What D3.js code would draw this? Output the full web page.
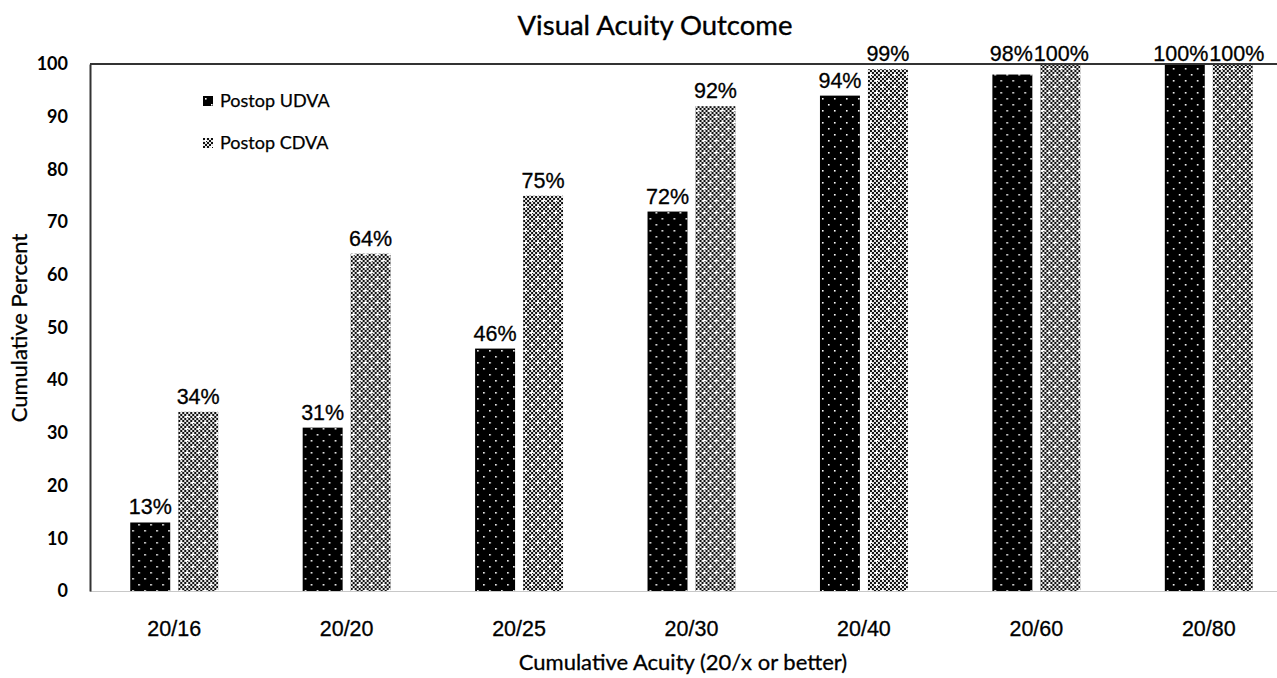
<!DOCTYPE html>
<html>
<head>
<meta charset="utf-8">
<script src="https://cdn.jsdelivr.net/npm/d3@7"></script>
<style>
  html, body { margin: 0; padding: 0; background: #fff; }
  svg { display: block; }
</style>
</head>
<body>
<svg id="chart" width="1277" height="678"></svg>
<script>
// Cumulative visual acuity thresholds (20/x or better)
const categories = ["20/16", "20/20", "20/25", "20/30", "20/40", "20/60", "20/80"];
const seriesNames = ["Postop UDVA", "Postop CDVA"];
const udvaValues = [13, 31, 46, 72, 94, 98, 100];
const cdvaValues = [34, 64, 75, 92, 99, 100, 100];
const yTicks = [0, 10, 20, 30, 40, 50, 60, 70, 80, 90, 100];

const W = 1277, H = 678;
const margin = { left: 90, top: 64, bottom: 87 };
const plotBottom = H - margin.bottom;

const svg = d3.select("#chart");
const calibri = "Lato, 'Open Sans', sans-serif";
const arial = "'Liberation Sans', Arial, sans-serif";

// Fill patterns: dotted black for UDVA, fine checker with white specks for CDVA
const defs = svg.append("defs");
const pDots = defs.append("pattern").attr("id", "pat-udva")
  .attr("patternUnits", "userSpaceOnUse").attr("width", 12).attr("height", 12);
pDots.append("rect").attr("width", 12).attr("height", 12).attr("fill", "#000");
pDots.append("rect").attr("x", 2).attr("y", 2).attr("width", 1.6).attr("height", 1.6).attr("fill", "#fff");
pDots.append("rect").attr("x", 8).attr("y", 8).attr("width", 1.6).attr("height", 1.6).attr("fill", "#fff");

const pChk = defs.append("pattern").attr("id", "pat-cdva")
  .attr("patternUnits", "userSpaceOnUse").attr("width", 12).attr("height", 12);
pChk.append("rect").attr("width", 12).attr("height", 12).attr("fill", "#e8e8e8");
for (let i = 0; i < 6; i++) {
  for (let j = 0; j < 6; j++) {
    if ((i + j) % 2 === 0) {
      pChk.append("rect").attr("x", i * 2).attr("y", j * 2)
        .attr("width", 2).attr("height", 2).attr("fill", "#111");
    }
  }
}
[[2, 2], [8, 8]].forEach(([cx, cy]) => {
  pChk.append("rect").attr("x", cx - 1).attr("y", cy).attr("width", 3).attr("height", 1).attr("fill", "#fff");
  pChk.append("rect").attr("x", cx).attr("y", cy - 1).attr("width", 1).attr("height", 3).attr("fill", "#fff");
});
const fills = { "Postop UDVA": "url(#pat-udva)", "Postop CDVA": "url(#pat-cdva)" };

// Scales
const x0 = d3.scaleBand().domain(categories).range([88, 1295])
  .paddingInner(0.49).paddingOuter(0.245);
const x1 = d3.scaleBand().domain(seriesNames).range([0, x0.bandwidth()])
  .paddingInner(0.167).paddingOuter(0);
const y = d3.scaleLinear().domain([0, 100]).range([plotBottom, margin.top]);

const rows = categories.map((c, i) => ({
  cat: c,
  vals: [
    { s: seriesNames[0], v: udvaValues[i] },
    { s: seriesNames[1], v: cdvaValues[i] }
  ]
}));

// Baseline (light) and top border (dark)
svg.append("line").attr("x1", margin.left).attr("x2", W)
  .attr("y1", plotBottom + 0.5).attr("y2", plotBottom + 0.5)
  .attr("stroke", "#c8c8c8").attr("stroke-width", 1.2);

// Bars
const groups = svg.append("g").selectAll("g").data(rows).join("g")
  .attr("transform", d => `translate(${x0(d.cat)},0)`);
groups.selectAll("rect").data(d => d.vals).join("rect")
  .attr("x", d => x1(d.s))
  .attr("width", x1.bandwidth())
  .attr("y", d => y(d.v))
  .attr("height", d => y(0) - y(d.v))
  .attr("fill", d => fills[d.s]);

svg.append("line").attr("x1", margin.left).attr("x2", W)
  .attr("y1", margin.top).attr("y2", margin.top)
  .attr("stroke", "#333").attr("stroke-width", 2);

// Value labels above the bars; labels near the top share one row
groups.each(function () {
  const labels = d3.select(this).selectAll("text").data(d => d.vals).join("text")
    .attr("x", d => x1(d.s) + x1.bandwidth() / 2)
    .attr("y", d => (y(d.v) - 8 < 67 ? 61 : y(d.v) - 8))
    .attr("text-anchor", "middle")
    .attr("font-family", arial).attr("font-size", 21.5).attr("fill", "#000")
    .attr("stroke", "#000").attr("stroke-width", 0.3)
    .text(d => d.v + "%");
  // push the pair apart when two labels on the same row would collide
  const nodes = labels.nodes();
  const [a, b] = nodes;
  if (+a.getAttribute("y") === +b.getAttribute("y")) {
    const ax = +a.getAttribute("x"), bx = +b.getAttribute("x");
    const gap = (ax + a.getComputedTextLength() / 2) - (bx - b.getComputedTextLength() / 2);
    if (gap > 0) {
      a.setAttribute("x", ax - gap / 2 - 0.5);
      b.setAttribute("x", bx + gap / 2 + 0.5);
    }
  }
});

// Y axis
const yAxis = svg.append("g").attr("transform", `translate(${margin.left},0)`)
  .call(d3.axisLeft(y).tickValues(yTicks).tickSize(0).tickPadding(22));
yAxis.select(".domain").attr("stroke", "#333").attr("stroke-width", 2);
yAxis.selectAll("text").attr("font-family", calibri).attr("font-weight", "bold")
  .attr("font-size", 18).attr("fill", "#000");

// X axis labels
const xAxis = svg.append("g").attr("transform", `translate(0,${plotBottom})`)
  .call(d3.axisBottom(x0).tickSize(0).tickPadding(30));
xAxis.select(".domain").remove();
xAxis.selectAll("text").attr("font-family", arial).attr("font-size", 21.5)
  .attr("fill", "#000").attr("stroke", "#000").attr("stroke-width", 0.3);

// Titles
svg.append("text").attr("x", 655).attr("y", 35).attr("text-anchor", "middle")
  .attr("font-family", calibri).attr("font-size", 27.5).attr("fill", "#000")
  .attr("stroke", "#000").attr("stroke-width", 0.35)
  .text("Visual Acuity Outcome");
svg.append("text").attr("x", 683).attr("y", 670).attr("text-anchor", "middle")
  .attr("font-family", calibri).attr("font-size", 22).attr("fill", "#000")
  .attr("stroke", "#000").attr("stroke-width", 0.3)
  .text("Cumulative Acuity (20/x or better)");
svg.append("text").attr("transform", "translate(27,328) rotate(-90)")
  .attr("text-anchor", "middle")
  .attr("font-family", calibri).attr("font-size", 22).attr("fill", "#000")
  .attr("stroke", "#000").attr("stroke-width", 0.3)
  .text("Cumulative Percent");

// Legend
const legend = svg.append("g").selectAll("g").data(seriesNames).join("g")
  .attr("transform", (d, i) => `translate(203,${96 + i * 42})`);
legend.append("rect").attr("width", 10).attr("height", 10).attr("fill", d => fills[d]);
legend.append("text").attr("x", 17).attr("y", 11)
  .attr("font-family", calibri).attr("font-size", 18).attr("fill", "#000")
  .attr("stroke", "#000").attr("stroke-width", 0.25)
  .text(d => d);
</script>
</body>
</html>
